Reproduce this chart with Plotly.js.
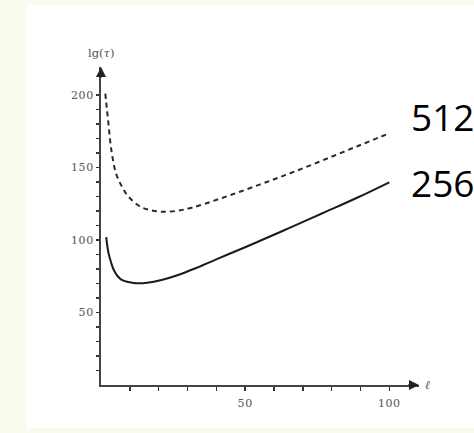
<!DOCTYPE html>
<html>
<head>
<meta charset="utf-8">
<script src="https://cdn.plot.ly/plotly-3.0.1.min.js"></script>
<style>
  html, body { margin: 0; padding: 0; background: #fbfaef; width: 474px; height: 433px; overflow: hidden; }
  #chart { position: absolute; left: 26px; top: 5px; width: 448px; height: 423px; background: #ffffff; }
  #chart .xtick text, #chart .ytick text { letter-spacing: 0.6px; }
</style>
</head>
<body>
<div id="chart"></div>
<script>
// Series (ℓ, lg(τ))
const ell256 = [1.8, 2.6, 3.5, 4.4, 5.8, 7.2, 9.5, 12, 16, 21, 27, 33, 41, 50, 55, 65, 77, 89, 100];
const tau256 = [102, 91, 84.5, 79.5, 75, 72.5, 71, 70.2, 70.5, 72.4, 76, 80.7, 87.5, 95, 99.3, 108, 118.6, 129.3, 139.8];
const ell512 = [1.5, 2, 2.6, 3.2, 4, 5.2, 7.2, 9.5, 13.6, 17, 21, 26, 31.5, 41, 55, 65.6, 77, 88.7, 100];
const tau512 = [201, 191, 180, 168, 157, 146, 137, 130, 123, 120.7, 119.5, 120, 122.3, 128.3, 138.2, 146, 155, 164.5, 173.6];
const seriesLabels = ['512', '256'];
const xTickVals = [10, 20, 30, 40, 50, 60, 70, 80, 90, 100];
const xTickText = ['', '', '', '', '50', '', '', '', '', '100'];
const yTickVals = [10, 20, 30, 40, 50, 60, 70, 80, 90, 100, 110, 120, 130, 140, 150, 160, 170, 180, 190, 200];
const yTickText = ['', '', '', '', '50', '', '', '', '', '100', '', '', '', '', '150', '', '', '', '', '200'];
const xMax = 110.3, yMax = 219.3;

const traces = [
  { x: ell256, y: tau256, mode: 'lines', line: { color: '#1a1a1a', width: 2, shape: 'spline', smoothing: 1 }, hoverinfo: 'skip' },
  { x: ell512, y: tau512, mode: 'lines', line: { color: '#2a2a2a', width: 2, dash: '5px,4px', shape: 'spline', smoothing: 1 }, hoverinfo: 'skip' }
];

const tickFont = { family: 'DejaVu Serif, serif', size: 11, color: '#555' };
const layout = {
  width: 448, height: 423,
  margin: { l: 74.7, r: 55, t: 62, b: 43, pad: 0 },
  paper_bgcolor: '#ffffff', plot_bgcolor: '#ffffff',
  showlegend: false,
  xaxis: {
    range: [0, xMax], showgrid: false, zeroline: false,
    showline: true, linecolor: '#444', linewidth: 2,
    ticks: 'outside', ticklen: 4, tickwidth: 1.5, tickcolor: '#333',
    ticklabelstandoff: 3,
    tickvals: xTickVals, ticktext: xTickText, tickfont: tickFont
  },
  yaxis: {
    range: [0, yMax], showgrid: false, zeroline: false,
    showline: true, linecolor: '#444', linewidth: 2,
    ticks: 'outside', ticklen: 3, tickwidth: 1.5, tickcolor: '#333',
    tickvals: yTickVals, ticktext: yTickText, tickfont: tickFont
  },
  annotations: [
    { xref: 'x', yref: 'y', x: xMax, y: 0, ax: -12, ay: 0, text: '', showarrow: true, arrowhead: 2, arrowsize: 1, arrowwidth: 2, arrowcolor: '#222' },
    { xref: 'x', yref: 'y', x: 0, y: yMax, ax: 0, ay: 12, text: '', showarrow: true, arrowhead: 2, arrowsize: 1, arrowwidth: 2, arrowcolor: '#222' },
    { xref: 'paper', yref: 'paper', x: 0, y: 1.045, xanchor: 'center', yanchor: 'middle', text: 'lg(<i>τ</i>)', showarrow: false, font: { family: 'DejaVu Serif, serif', size: 11.5, color: '#555' } },
    { xref: 'paper', yref: 'paper', x: 1.012, y: 0, xanchor: 'left', yanchor: 'middle', text: '<i>ℓ</i>', showarrow: false, font: { family: 'DejaVu Serif, serif', size: 12, color: '#555' } },
    { xref: 'paper', yref: 'paper', x: 0.967, y: 0.843, xanchor: 'left', yanchor: 'middle', text: seriesLabels[0], showarrow: false, font: { family: 'Open Sans, sans-serif', size: 37, color: '#000' } },
    { xref: 'paper', yref: 'paper', x: 0.967, y: 0.638, xanchor: 'left', yanchor: 'middle', text: seriesLabels[1], showarrow: false, font: { family: 'Open Sans, sans-serif', size: 37, color: '#000' } }
  ]
};

Plotly.newPlot('chart', traces, layout, { staticPlot: true, displayModeBar: false });
</script>
</body>
</html>
